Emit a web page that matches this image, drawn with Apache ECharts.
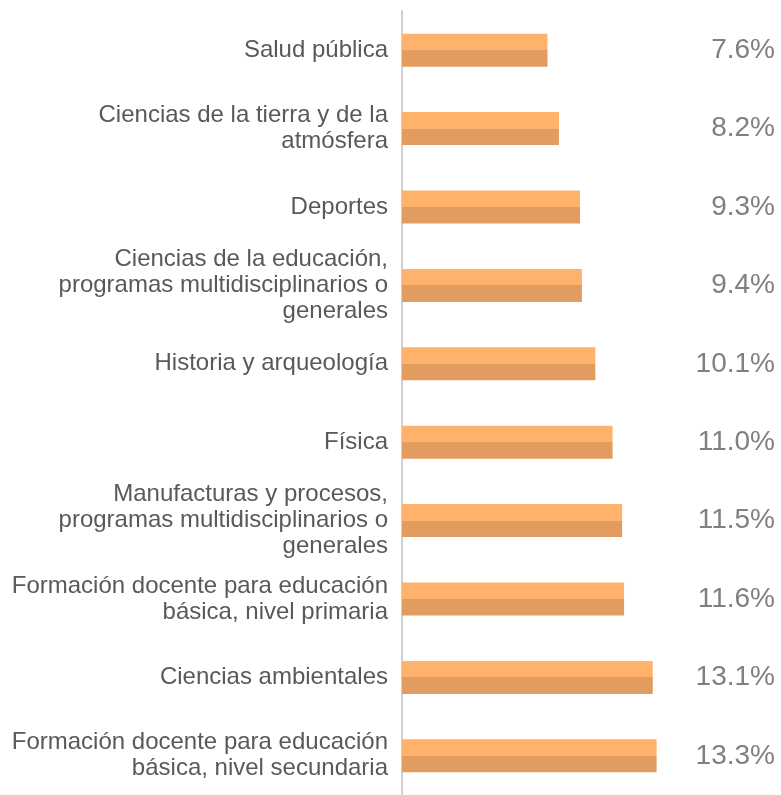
<!DOCTYPE html>
<html>
<head>
<meta charset="utf-8">
<script src="https://cdn.jsdelivr.net/npm/echarts@6/dist/echarts.min.js"></script>
<style>
  html, body { margin: 0; padding: 0; background: #fff; }
  #chart { width: 781px; height: 795px; }
</style>
</head>
<body>
<div id="chart"></div>
<script>
// categorias, de arriba hacia abajo
const categorias = [
  'Salud pública',
  'Ciencias de la tierra y de la\natmósfera',
  'Deportes',
  'Ciencias de la educación,\nprogramas multidisciplinarios o\ngenerales',
  'Historia y arqueología',
  'Física',
  'Manufacturas y procesos,\nprogramas multidisciplinarios o\ngenerales',
  'Formación docente para educación\nbásica, nivel primaria',
  'Ciencias ambientales',
  'Formación docente para educación\nbásica, nivel secundaria'
];
const valores = [7.6, 8.2, 9.3, 9.4, 10.1, 11.0, 11.5, 11.6, 13.1, 13.3];
const etiquetas = valores.map(v => v.toFixed(1) + '%');

const fuente = '"Liberation Sans", Arial, sans-serif';

let myChart = echarts.init(document.getElementById('chart'));
let option = {
  animation: false,
  grid: { left: 402, top: 11, width: 268, height: 790 },
  xAxis: {
    type: 'value',
    min: 0,
    max: 14,
    show: false
  },
  yAxis: [
    {
      type: 'category',
      data: categorias,
      inverse: true,
      axisLine: { show: true, lineStyle: { color: '#D0D0D0', width: 2 } },
      axisTick: { show: false },
      axisLabel: {
        margin: 14,
        fontFamily: fuente,
        fontSize: 24,
        lineHeight: 26,
        color: '#595959',
        align: 'right'
      }
    },
    {
      type: 'category',
      data: etiquetas,
      inverse: true,
      position: 'right',
      axisLine: { show: false },
      axisTick: { show: false },
      axisLabel: {
        margin: 105,
        align: 'right',
        padding: [3, 0, 0, 0],
        fontFamily: fuente,
        fontSize: 28,
        color: '#808080'
      }
    }
  ],
  series: [
    {
      type: 'bar',
      data: valores,
      barWidth: 33,
      itemStyle: {
        // mitad superior clara, mitad inferior oscura
        color: {
          type: 'linear', x: 0, y: 0, x2: 0, y2: 1,
          colorStops: [
            { offset: 0, color: '#FFB26B' },
            { offset: 0.5, color: '#FFB26B' },
            { offset: 0.5, color: '#E29C5F' },
            { offset: 1, color: '#E29C5F' }
          ]
        }
      }
    }
  ]
};
myChart.setOption(option);
</script>
</body>
</html>
